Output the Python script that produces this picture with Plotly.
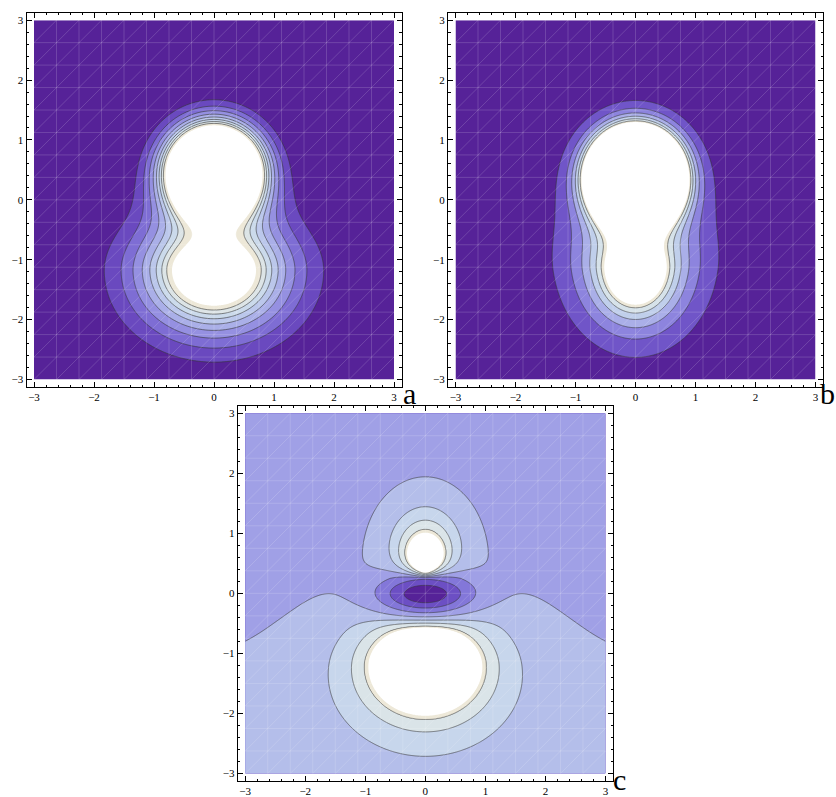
import numpy as np
import plotly.graph_objects as go

# ---------------- sampling grid ----------------
N_GRID = 361
xs = np.linspace(-3.0, 3.0, N_GRID)
ys = np.linspace(-3.0, 3.0, N_GRID)
X, Y = np.meshgrid(xs, ys)

# ---------------- colour ramp (low -> high) ----------------
ramp_pos = [0.0, 0.14, 0.29, 0.43, 0.57, 0.71, 0.86, 1.0]
ramp_rgb = [(86, 34, 152), (108, 78, 196), (132, 120, 218), (160, 160, 230),
            (180, 190, 234), (198, 214, 236), (218, 228, 232), (237, 232, 216)]

# ---------------- panel a: two density centres ----------------
a_center_y = [0.45, -1.2]
a_amp = [213.0, 27.0]
a_decay_x = [0.26, 0.70]
a_decay_up = [0.26, 0.47]
a_decay_down = [0.27, 0.58]
a_levels = [2.0, 1.0, 8]      # start, step, number of contour lines
a_clip = 10.2

# ---------------- panel b: two centres plus a diffuse cloud ----------------
b_center_y = [0.37, -1.2, -0.5]
b_amp = [1445.0, 28.2, 7.0]
b_decay_x = [0.176, 0.40, 0.80]
b_decay_up = [0.185, 0.35, 0.90]
b_decay_down = [0.186, 0.47, 0.90]
b_levels = [2.0, 1.5, 6]
b_clip = 10.5

# ---------------- panel c: difference field ----------------
c_p_center_y, c_p_amp, c_p_decay, c_p_xscale = 0.25, 65.5, 0.29, 0.73
c_neg_center_y, c_neg_amp, c_neg_sx, c_neg_sy, c_neg_pow = -0.02, 3.9, 0.77, 0.31, 2.0
c_lobe_center_y, c_lobe_amp = -1.2, 21.0
c_lobe_dx, c_lobe_up, c_lobe_down = 0.48, 0.35, 0.41
c_cut_y, c_cut_w, c_cut_xw = -0.45, 0.06, 1.3
c_tail_amp, c_tail_decay = 1.2, 1.1
c_bg_amp, c_bg_y0, c_bg_w = 0.6, -0.85, 0.6
c_levels = [-2.6, 1.0, 7]
c_clip = 3.8

# triangulation seams drawn over the shaded regions
mesh_step = 0.375


def blob(cy, amp, dx, dup, ddown):
    dy = Y - cy
    sy = np.where(dy >= 0, dup, ddown)
    rho = np.sqrt((X / dx) ** 2 + (dy / sy) ** 2)
    return amp * np.exp(-rho)


def density(cys, amps, dxs, dups, ddowns):
    z = np.zeros_like(X)
    for cy, a, dx, du, dd in zip(cys, amps, dxs, dups, ddowns):
        z += blob(cy, a, dx, du, dd)
    return z


def difference_field():
    yr = Y - c_p_center_y
    p = c_p_amp * np.maximum(yr, 0) * np.exp(
        -np.sqrt((X / c_p_xscale) ** 2 + yr ** 2) / c_p_decay)
    rn = np.sqrt((X / c_neg_sx) ** 2 + ((Y - c_neg_center_y) / c_neg_sy) ** 2)
    neg = -c_neg_amp * np.exp(-rn ** c_neg_pow)
    lobe = blob(c_lobe_center_y, c_lobe_amp, c_lobe_dx, c_lobe_up, c_lobe_down)
    below = 1.0 / (1.0 + np.exp((Y - c_cut_y) / c_cut_w))
    cut = 1.0 - (1.0 - below) * np.exp(-(X / c_cut_xw) ** 2)
    tail = c_tail_amp * np.exp(-np.sqrt(X ** 2 + (Y - c_lobe_center_y) ** 2) / c_tail_decay)
    bg = c_bg_amp / (1.0 + np.exp((Y - c_bg_y0) / c_bg_w))
    return p + neg + lobe * cut + tail + bg


def ramp_color(t):
    r = np.interp(t, ramp_pos, [c[0] for c in ramp_rgb])
    g = np.interp(t, ramp_pos, [c[1] for c in ramp_rgb])
    b = np.interp(t, ramp_pos, [c[2] for c in ramp_rgb])
    return "rgb(%d,%d,%d)" % (round(r), round(g), round(b))


def mesh_lines():
    mx, my = [], []
    n = int(round(6 / mesh_step))
    for k in range(1, n):
        v = -3 + k * mesh_step
        mx += [v, v, None, -3, 3, None]
        my += [-3, 3, None, v, v, None]
    for k in range(-n + 1, n):
        c = k * mesh_step
        x0, x1 = max(-3, -3 - c), min(3, 3 - c)
        mx += [x0, x1, None]
        my += [x0 + c, x1 + c, None]
    return mx, my


def add_panel(fig, z, levels, clip, xa, ya):
    start, step, n = levels
    top = start + step * (n - 1)
    # values above the plotted range are squeezed into one extra band drawn white
    zf = np.where(z > top, top + (z - top) * step / (clip - top), z)
    zf = np.minimum(zf, top + 3 * step).astype(np.float32)
    nc = n + 1
    colors = [ramp_color(k / n) for k in range(n + 1)] + ["white"]
    cscale = [[j / nc, colors[j]] for j in range(nc + 1)]
    fig.add_trace(go.Contour(
        x=xs, y=ys, z=zf, xaxis=xa, yaxis=ya,
        contours=dict(start=start, end=top + step, size=step, coloring="fill", showlines=False),
        colorscale=cscale, showscale=False, line=dict(width=0), hoverinfo="skip"))
    mx, my = mesh_lines()
    fig.add_trace(go.Scatter(x=mx, y=my, xaxis=xa, yaxis=ya, mode="lines",
                             line=dict(color="rgba(255,255,255,0.2)", width=0.8),
                             hoverinfo="skip"))
    fig.add_trace(go.Contour(
        x=xs, y=ys, z=zf, xaxis=xa, yaxis=ya,
        contours=dict(start=start, end=top, size=step, coloring="none", showlines=True),
        line=dict(color="rgba(55,55,55,0.6)", width=1), showscale=False, hoverinfo="skip"))


fig = go.Figure()
add_panel(fig, density(a_center_y, a_amp, a_decay_x, a_decay_up, a_decay_down),
          a_levels, a_clip, "x", "y")
add_panel(fig, density(b_center_y, b_amp, b_decay_x, b_decay_up, b_decay_down),
          b_levels, b_clip, "x2", "y2")
add_panel(fig, difference_field(), c_levels, c_clip, "x3", "y3")

W, H = 836, 797
tick_vals = [-3, -2, -1, 0, 1, 2, 3]
SERIF = "Liberation Serif, Times New Roman, serif"


def axis(domain, anchor):
    return dict(
        domain=domain, anchor=anchor, range=[-3.125, 3.125],
        showline=True, mirror="allticks", linecolor="black", linewidth=1,
        ticks="inside", ticklen=5, tickwidth=1, tickcolor="black",
        tickvals=tick_vals, showgrid=False, zeroline=False,
        tickfont=dict(family=SERIF, size=11, color="black"),
        minor=dict(ticks="inside", ticklen=2.5, tickwidth=0.8, dtick=0.2, tick0=0,
                   tickcolor="black", showgrid=False),
    )


def px_x(a, b):
    return [a / W, b / W]


def px_y(top, bottom):
    return [1 - bottom / H, 1 - top / H]


fig.update_layout(
    width=W, height=H, margin=dict(l=0, r=0, t=0, b=0),
    paper_bgcolor="white", plot_bgcolor="white", showlegend=False,
    xaxis=axis(px_x(26.5, 401.5), "y"), yaxis=axis(px_y(12.7, 387), "x"),
    xaxis2=axis(px_x(448, 823), "y2"), yaxis2=axis(px_y(12.7, 387), "x2"),
    xaxis3=axis(px_x(237.7, 613), "y3"), yaxis3=axis(px_y(405.7, 781), "x3"),
)

panel_tags = ["a", "b", "c"]
tag_pos = [(402, 393, "left", "middle"), (836, 393, "right", "middle"), (612, 797, "left", "bottom")]
for txt, (xp, yp, xa_, ya_) in zip(panel_tags, tag_pos):
    fig.add_annotation(text=txt, xref="paper", yref="paper", x=xp / W, y=1 - yp / H,
                       xanchor=xa_, yanchor=ya_, showarrow=False, borderpad=0,
                       font=dict(family=SERIF, size=30, color="black"))

fig.write_html("out.html")
